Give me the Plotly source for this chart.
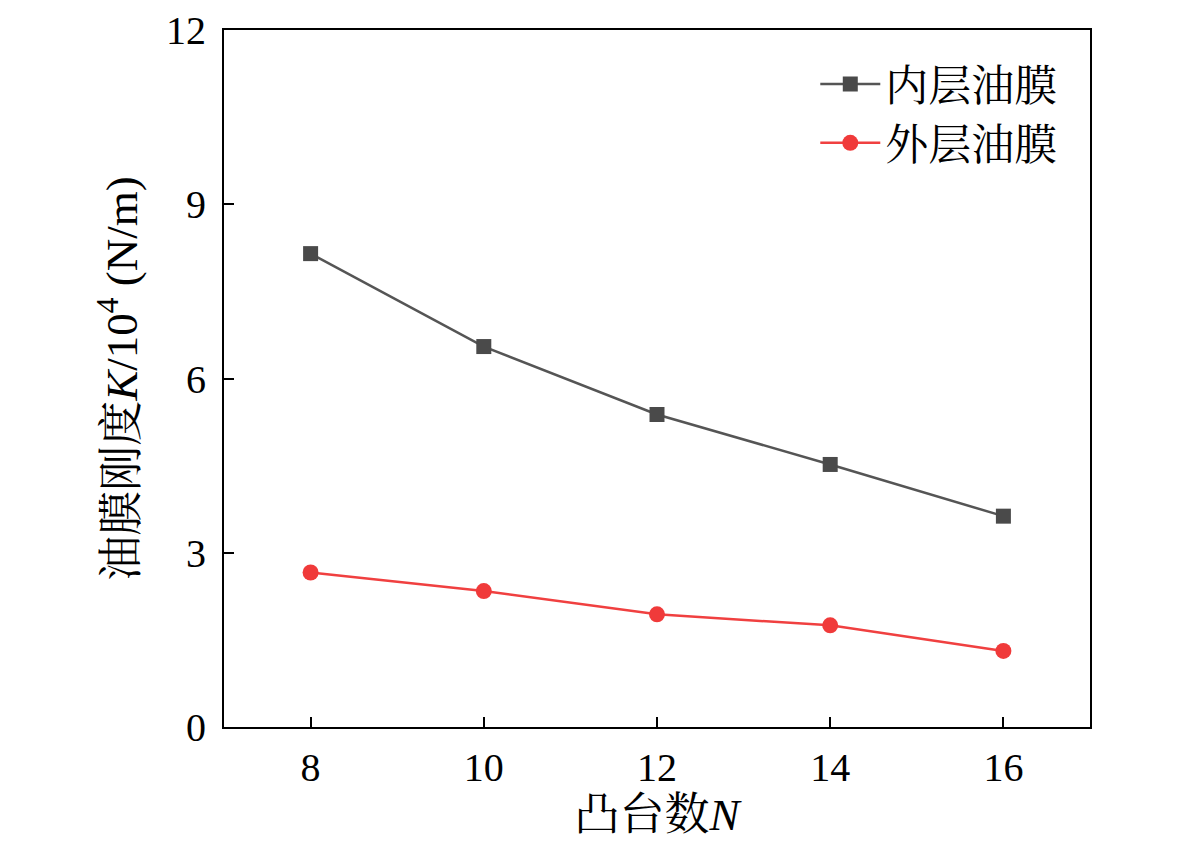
import plotly.graph_objects as go

bosses = [8, 10, 12, 14, 16]
inner_film = [8.15, 6.55, 5.38, 4.52, 3.63]
outer_film = [2.66, 2.34, 1.94, 1.75, 1.31]
names = ["内层油膜", "外层油膜"]
x_ticks = [8, 10, 12, 14, 16]
y_ticks = [0, 3, 6, 9, 12]

FONT = "Liberation Serif, Times New Roman, Noto Serif CJK SC, Noto Sans CJK SC, serif"

fig = go.Figure()
fig.add_trace(go.Scatter(
    x=bosses, y=inner_film, name=names[0], mode="lines+markers",
    line=dict(color="#555555", width=2.5),
    marker=dict(symbol="square", size=15, color="#4a4a4a"),
))
fig.add_trace(go.Scatter(
    x=bosses, y=outer_film, name=names[1], mode="lines+markers",
    line=dict(color="#f04040", width=2.5),
    marker=dict(symbol="circle", size=16, color="#f03a3a"),
))

axis_common = dict(
    showline=True, linecolor="black", linewidth=2, mirror=True,
    ticks="inside", ticklen=10, tickwidth=2, tickcolor="black",
    showgrid=False, zeroline=False, automargin=False,
    ticklabeloverflow="allow",
    tickfont=dict(family=FONT, size=40, color="black"),
)

fig.update_layout(
    width=1181, height=841,
    margin=dict(l=216, r=99, t=22, b=122),
    paper_bgcolor="white", plot_bgcolor="white",
    font=dict(family=FONT, color="black"),
    showlegend=True,
    legend=dict(
        x=0.968, y=0.972, xanchor="right", yanchor="top",
        font=dict(family=FONT, size=43, color="black"),
        bgcolor="rgba(0,0,0,0)", itemwidth=60, tracegroupgap=18,
    ),
    xaxis=dict(
        range=[7, 17], tickvals=x_ticks, ticktext=[str(v) for v in x_ticks],
        ticklabelstandoff=4,
        title=dict(text="凸台数<i>N</i>", font=dict(family=FONT, size=45), standoff=8),
        **axis_common,
    ),
    yaxis=dict(
        range=[0, 12], tickvals=y_ticks, ticktext=[str(v) for v in y_ticks],
        ticklabelstandoff=8,
        title=dict(text="油膜刚度<i>K</i>/10<sup>4</sup> (N/m)", font=dict(family=FONT, size=45), standoff=14),
        **axis_common,
    ),
)

fig.write_html("out.html")
